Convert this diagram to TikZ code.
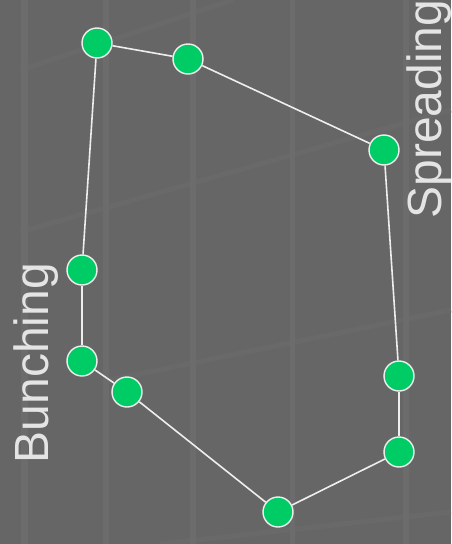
\documentclass[tikz,border=0pt]{standalone}
\usepackage{fontspec}
\setmainfont{Liberation Sans}
\definecolor{bg}{HTML}{666666}
\definecolor{stripe}{HTML}{6C6C6C}
\definecolor{dot}{HTML}{00CC66}
\definecolor{edge}{HTML}{EEEEEE}
\definecolor{label}{HTML}{E4E4E4}
\tikzset{
  dotnode/.style={circle,fill=dot,draw=edge,line width=1.4pt,minimum size=30pt,inner sep=0pt},
  link/.style={draw=edge,line width=1.6pt},
  sidelabel/.style={text=label,font=\fontsize{48}{52}\selectfont,rotate=90,anchor=base,inner sep=0pt},
  vstripe/.style={fill=stripe},
  dband/.style={draw=stripe,line width=5pt,opacity=0.6}
}
\begin{document}
\begin{tikzpicture}[x=1pt,y=-1pt]
\fill[bg] (0,0) rectangle (451,544);
\useasboundingbox (0,0) rectangle (451,544);
% background texture
\fill[vstripe] (21,0) rectangle (28,544);
\fill[vstripe] (103,0) rectangle (109,544);
\fill[vstripe] (190,0) rectangle (196,544);
\fill[vstripe] (290,0) rectangle (295,544);
\fill[vstripe] (403,0) rectangle (409,544);
\draw[dband] (20,70) -- (233,0);
\draw[dband] (20,232) -- (451,110);
\draw[dband] (110,380) -- (451,310);
\draw[dband] (160,544) -- (451,512);
% nodes
\node[dotnode] (n1) at (97,43) {};
\node[dotnode] (n2) at (188,59) {};
\node[dotnode] (n3) at (384,150) {};
\node[dotnode] (n4) at (399,376) {};
\node[dotnode] (n5) at (399,452) {};
\node[dotnode] (n6) at (278,512) {};
\node[dotnode] (n7) at (127,392) {};
\node[dotnode] (n8) at (82,361) {};
\node[dotnode] (n9) at (82,270) {};
% connectors
\draw[link] (n1) -- (n2);
\draw[link] (n2) -- (n3);
\draw[link] (n3) -- (n4);
\draw[link] (n4) -- (n5);
\draw[link] (n5) -- (n6);
\draw[link] (n6) -- (n7);
\draw[link] (n7) -- (n8);
\draw[link] (n8) -- (n9);
\draw[link] (n9) -- (n1);
% labels
\node[sidelabel] (spread) at (441,109) {Spreading};
\node[sidelabel] (bunch) at (48,363) {Bunching};
\end{tikzpicture}
\end{document}
